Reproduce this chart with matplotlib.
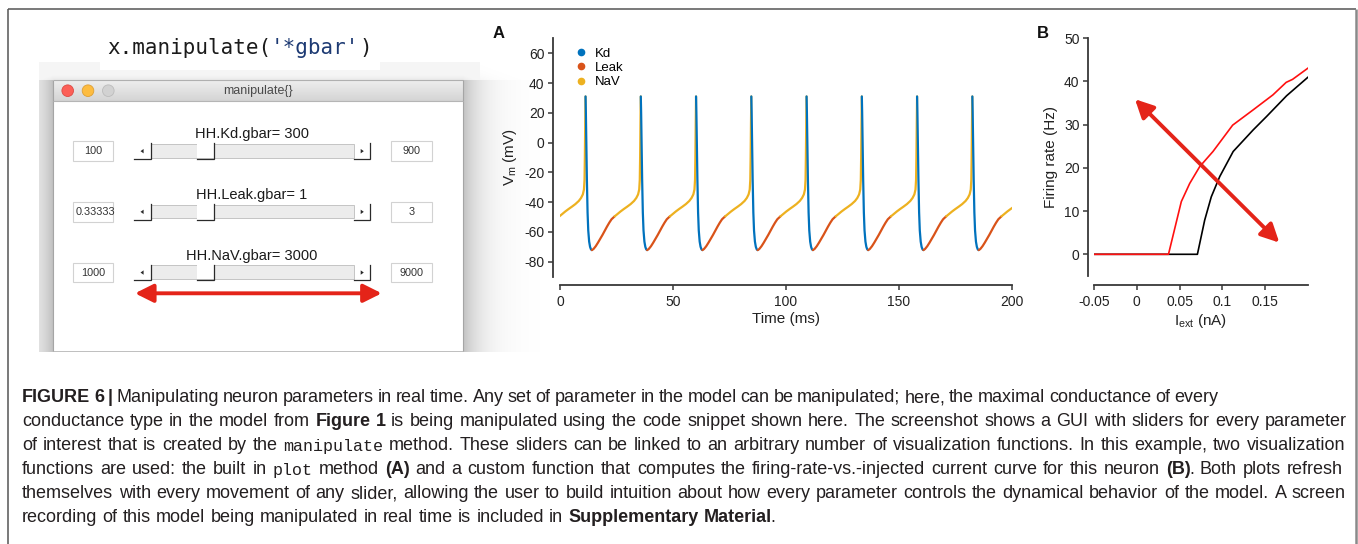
import re
import numpy as np
import matplotlib
matplotlib.use('Agg')
import matplotlib.pyplot as plt
from matplotlib.patches import Rectangle, Circle, Polygon
from matplotlib.lines import Line2D

plt.rcParams['font.family'] = ['Liberation Sans', 'DejaVu Sans']
plt.rcParams['axes.unicode_minus'] = False
plt.rcParams['mathtext.fontset'] = 'custom'
plt.rcParams['mathtext.rm'] = 'Liberation Sans'
plt.rcParams['mathtext.it'] = 'Liberation Sans:italic'

# ---------------- data ----------------
# manipulate() window: one slider per maximal conductance
param_names = ['HH.Kd.gbar', 'HH.Leak.gbar', 'HH.NaV.gbar']
param_values = [300, 1, 3000]
param_lower = [100, 1 / 3, 1000]
param_upper = [900, 3, 9000]
lower_text = ['100', '0.33333', '1000']
upper_text = ['900', '3', '9000']

# (A) membrane potential; waveform pieces are times relative to each spike peak (ms)
spike_times = [11.3, 35.75, 60.2, 84.65, 109.1, 133.55, 158.0, 182.45, 206.9]
nav_t = [-11.55, -10.5, -9.0, -7.5, -6.0, -4.5, -3.0, -2.0, -1.2, -0.7, -0.45, -0.3, -0.15, 0.0]
nav_v = [-49.5, -48.2, -46.3, -44.6, -43.0, -41.3, -39.2, -37.2, -34.8, -31.5, -25.0, -10.0, 12.0, 31.0]
kd_t = [0.0, 0.15, 0.35, 0.6, 0.9, 1.2, 1.6, 2.0, 2.4, 2.8]
kd_v = [31.0, 20.0, 0.0, -25.0, -47.0, -59.0, -66.5, -70.0, -71.7, -72.2]
leak_t = [2.8, 3.5, 4.5, 5.5, 6.5, 7.5, 8.5, 9.5, 10.5, 11.5, 12.9]
leak_v = [-72.2, -71.5, -69.6, -67.2, -64.6, -62.0, -59.2, -56.4, -53.8, -51.5, -49.5]
channel_names = ['Kd', 'Leak', 'NaV']
channel_colors = ['#0072BD', '#D95319', '#EDB120']

# (B) firing rate vs injected current, before (black) and after (red) moving a slider
i_base = [-0.05, 0.0708, 0.0793, 0.087, 0.0969, 0.1126, 0.136, 0.1516, 0.175, 0.2]
rate_base = [0, 0, 7.9, 13.3, 18.0, 23.8, 28.8, 31.9, 36.7, 41.0]
i_mod = [-0.05, 0.037, 0.052, 0.0618, 0.0735, 0.089, 0.112, 0.1357, 0.159, 0.1745, 0.182, 0.2]
rate_mod = [0, 0, 12.2, 16.4, 20.3, 23.8, 29.9, 33.4, 36.9, 39.8, 40.5, 43.1]

caption_lines = [
    "**FIGURE 6 |** Manipulating neuron parameters in real time. Any set of parameter in the model can be manipulated; here, the maximal conductance of every",
    "conductance type in the model from **Figure 1** is being manipulated using the code snippet shown here. The screenshot shows a GUI with sliders for every parameter",
    "of interest that is created by the `manipulate` method. These sliders can be linked to an arbitrary number of visualization functions. In this example, two visualization",
    "functions are used: the built in `plot` method **(A)** and a custom function that computes the firing-rate-vs.-injected current curve for this neuron **(B)**. Both plots refresh",
    "themselves with every movement of any slider, allowing the user to build intuition about how every parameter controls the dynamical behavior of the model. A screen",
    "recording of this model being manipulated in real time is included in **Supplementary Material**.",
]
caption_ends = [1218, 1347, 1345, 1343, 1346, 775]

# ---------------- figure ----------------
W, H = 1358, 544
fig = plt.figure(figsize=(W / 100, H / 100), dpi=100, facecolor='white')
bg = fig.add_axes([0, 0, 1, 1], zorder=0)
bg.set_xlim(0, W)
bg.set_ylim(H, 0)
bg.axis('off')
renderer = fig.canvas.get_renderer()

# outer frame
bg.plot([7.5, 7.5], [H, 8.5], color='#555555', lw=1.1, solid_capstyle='butt')
bg.plot([7.5, 1355.5], [8.5, 8.5], color='#555555', lw=1.1, solid_capstyle='butt')
bg.plot([1355.5, 1355.5], [8.5, H], color='#8a8a8a', lw=1.8, solid_capstyle='butt')

# window shadow of the screenshot
win_l, win_r, win_t, win_b = 53, 463, 80, 351
sx = np.arange(30, 540) + 0.5
sy = np.arange(55, 352) + 0.5
X, Y = np.meshgrid(sx, sy)
dx = np.maximum(np.maximum(win_l - X, X - win_r), 0)
vert = np.where(Y >= win_t, 1.0, 0.35 * np.exp(-(win_t - Y) / 7))
alpha = 0.25 * np.exp(-dx / 19) * vert
alpha = np.where((X >= 39) & (X <= 480) & (Y >= 62), np.maximum(alpha, 0.04), alpha)
alpha[(X < 39) | (Y < 62)] = 0
rgba = np.zeros(X.shape + (4,))
rgba[..., 3] = alpha
bg.imshow(rgba, extent=(30, 540, 352, 55), interpolation='bilinear', aspect='auto', zorder=1)

# code line above the window
bg.add_patch(Rectangle((100, 20), 280, 50, facecolor='white', edgecolor='none', zorder=1.5))


def runs_text(x, y, runs, **kw):
    for s, color in runs:
        t = bg.text(x, y, s, color=color, va='baseline', ha='left', zorder=6, **kw)
        x += t.get_window_extent(renderer).width
    return x


runs_text(107, 54, [("x.manipulate(", '#1b1b1b'), ("'*gbar'", '#1d3a73'), (")", '#1b1b1b')],
          family='DejaVu Sans Mono', fontsize=15)

# window body and title bar
bg.add_patch(Rectangle((win_l, 101), win_r - win_l, win_b - 101, facecolor='white', edgecolor='none', zorder=2))
grad = np.linspace(0.93, 0.83, 21)[:, None]
bg.imshow(grad, cmap='gray', vmin=0, vmax=1, extent=(win_l, win_r, 101, win_t), aspect='auto', zorder=3)
for xs, ys, c in [([win_l, win_l], [win_t, win_b], '#a5a5a5'), ([win_r, win_r], [win_t, win_b], '#a5a5a5'),
                  ([win_l, win_r], [win_t, win_t], '#b0b0b0'), ([win_l, win_r], [101, 101], '#b5b5b5')]:
    bg.plot(xs, ys, color=c, lw=0.8, zorder=4, solid_capstyle='butt')
for cx, fc, ec in [(67.7, '#fc5f57', '#dd4a44'), (88.0, '#fdbc40', '#de9f34'), (108.3, '#d2d2d2', '#bcbcbc')]:
    bg.add_patch(Circle((cx, 90.7), 5.8, facecolor=fc, edgecolor=ec, lw=0.6, zorder=5))
bg.text(257.5, 91, 'manipulate{}', ha='center', va='center', fontsize=9, color='#4a4a4a', zorder=6)

# sliders
dark = '#2a2a2a'
x0, x1, btn, thumb_w = 134.3, 370.0, 16.5, 17.0
for k, name in enumerate(param_names):
    top = 143.3 + 60.7 * k
    bot = top + 15.7
    mid = (top + bot) / 2
    bg.text(252, top - 9, f'{name}= {param_values[k]}', ha='center', va='center',
            fontsize=10.5, color='#1a1a1a', zorder=6)
    for bx, bw, s in [(73.3, 40.0, lower_text[k]), (391.0, 40.7, upper_text[k])]:
        box = Rectangle((bx, top - 2), bw, 19.7, facecolor='white', edgecolor='#d2d2d2', lw=0.8, zorder=5)
        bg.add_patch(box)
        if len(s) > 4:
            t = bg.text(bx + 2.5, mid, s, ha='left', va='center', fontsize=7.8, color='#333333', zorder=6)
        else:
            t = bg.text(bx + bw / 2, mid, s, ha='center', va='center', fontsize=7.8, color='#333333', zorder=6)
        t.set_clip_path(box)
    tl, tr = x0 + btn, x1 - btn
    frac = (param_values[k] - param_lower[k]) / (param_upper[k] - param_lower[k])
    th = tl + frac * (tr - tl - thumb_w)
    bg.add_patch(Rectangle((tl, top + 0.5), tr - tl, bot - top - 2, facecolor='#ececec',
                           edgecolor='#c4c4c4', lw=0.7, zorder=5))
    bg.add_patch(Rectangle((th, top + 0.5), thumb_w, bot - top - 1.5, facecolor='white',
                           edgecolor='none', zorder=5.2))
    for a, b in [(x0, tl), (th, th + thumb_w), (tr, x1)]:
        bg.plot([a, b, b], [bot, bot, top], color=dark, lw=0.9, zorder=5.5, solid_joinstyle='miter')
    bg.add_patch(Polygon([[140.5, mid], [143.6, mid - 2.2], [143.6, mid + 2.2]], closed=True,
                         facecolor=dark, edgecolor='none', zorder=5.5))
    bg.add_patch(Polygon([[363.8, mid], [360.7, mid - 2.2], [360.7, mid + 2.2]], closed=True,
                         facecolor=dark, edgecolor='none', zorder=5.5))

arrow_red = '#e42419'
arrow_kw = dict(arrowstyle='<|-|>,head_length=1.1,head_width=0.55', color=arrow_red, lw=2.8,
                mutation_scale=10, shrinkA=0, shrinkB=0)
bg.annotate('', xy=(381.7, 293.3), xytext=(135.0, 293.3), arrowprops=arrow_kw, zorder=7)

# caption, one justified line at a time
styles = {
    (False, False): dict(family='Liberation Sans', fontsize=13),
    (True, False): dict(family='Liberation Sans', fontsize=13, weight='bold'),
    (False, True): dict(family='Liberation Mono', fontsize=12),
}
for row, line in enumerate(caption_lines):
    base_y = 402.5 + 24 * row
    bold = mono = False
    words = []
    for w in line.split(' '):
        pieces = []
        for part in re.split(r'(\*\*|`)', w):
            if part == '**':
                bold = not bold
            elif part == '`':
                mono = not mono
            elif part:
                t = bg.text(0, base_y, part, va='baseline', ha='left', color='#231f20',
                            zorder=6, **styles[(bold, mono)])
                width = t.get_window_extent(renderer).width
                # trailing punctuation sits tight against the previous piece
                kern = -2.0 if pieces and part[0] in '.,;:' else 0.0
                pieces.append((t, width, kern))
        words.append(pieces)
    widths = [sum(p[1] + p[2] for p in wd) for wd in words]
    gap = (caption_ends[row] - 22 - sum(widths)) / (len(words) - 1)
    x = 22
    for wd, ww in zip(words, widths):
        px = x
        for t, pw, kern in wd:
            px += kern
            t.set_x(px)
            px += pw
        x += ww + gap

# ---------------- panel A ----------------
def style_axes(ax, left_off, bottom_off):
    for s in ['top', 'right']:
        ax.spines[s].set_visible(False)
    ax.spines['left'].set_position(('outward', left_off))
    ax.spines['bottom'].set_position(('outward', bottom_off))
    for s in ['left', 'bottom']:
        ax.spines[s].set_linewidth(1.3)
        ax.spines[s].set_color('#383838')
    ax.tick_params(direction='out', length=3.6, width=1.1, color='#383838',
                   labelcolor='#222222', labelsize=10)
    ax.tick_params(axis='y', pad=2.5)
    ax.tick_params(axis='x', pad=4)
    ax.patch.set_visible(False)


axA = fig.add_axes([560 / W, 1 - 276.6 / H, 452 / W, 238.2 / H], zorder=2)
for tp in spike_times:
    axA.plot(tp + np.array(nav_t), nav_v, color=channel_colors[2], lw=1.6, solid_capstyle='round')
    axA.plot(tp + np.array(kd_t), kd_v, color=channel_colors[0], lw=1.6, solid_capstyle='round')
    axA.plot(tp + np.array(leak_t), leak_v, color=channel_colors[1], lw=1.6, solid_capstyle='round')
axA.set_xlim(0, 200)
axA.set_ylim(-90, 70)
axA.set_xticks([0, 50, 100, 150, 200])
axA.set_yticks([-80, -60, -40, -20, 0, 20, 40, 60])
style_axes(axA, 5, 6)
axA.set_xlabel('Time (ms)', fontsize=11, color='#222222', labelpad=2)
axA.set_ylabel(r'V$_\mathrm{m}$ (mV)', fontsize=11, color='#222222', labelpad=4)
handles = [Line2D([], [], marker='o', linestyle='none', markersize=4.5, color=c) for c in channel_colors]
axA.legend(handles, channel_names, loc='upper left', bbox_to_anchor=(574.5, 47.5),
           bbox_transform=bg.transData, frameon=False, fontsize=9.5, handlelength=1.0,
           handletextpad=0.55, labelspacing=0.15, borderpad=0, borderaxespad=0)

# ---------------- panel B ----------------
axB = fig.add_axes([1094 / W, 1 - 275.9 / H, 214 / W, 237.6 / H], zorder=2)
axB.plot(i_base, rate_base, color='black', lw=1.2)
axB.plot(i_mod, rate_mod, color='#ff1010', lw=1.2)
axB.set_xlim(-0.05, 0.2)
axB.set_ylim(-5, 50)
axB.set_xticks([-0.05, 0, 0.05, 0.1, 0.15])
axB.set_xticklabels(['-0.05', '0', '0.05', '0.1', '0.15'])
axB.set_yticks([0, 10, 20, 30, 40, 50])
style_axes(axB, 4.3, 6.5)
axB.set_xlabel(r'I$_\mathrm{ext}$ (nA)', fontsize=11, color='#222222', labelpad=2)
axB.set_ylabel('Firing rate (Hz)', fontsize=11, color='#222222', labelpad=4)
axB.annotate('', xy=(0.1665, 2.7), xytext=(-0.0021, 35.9), arrowprops=arrow_kw,
             annotation_clip=False)

bg.text(498.6, 34, 'A', ha='center', va='center', fontsize=12, weight='bold', color='#111111')
bg.text(1042.7, 34, 'B', ha='center', va='center', fontsize=12, weight='bold', color='#111111')

fig.savefig('out.png', dpi=100, facecolor='white')
